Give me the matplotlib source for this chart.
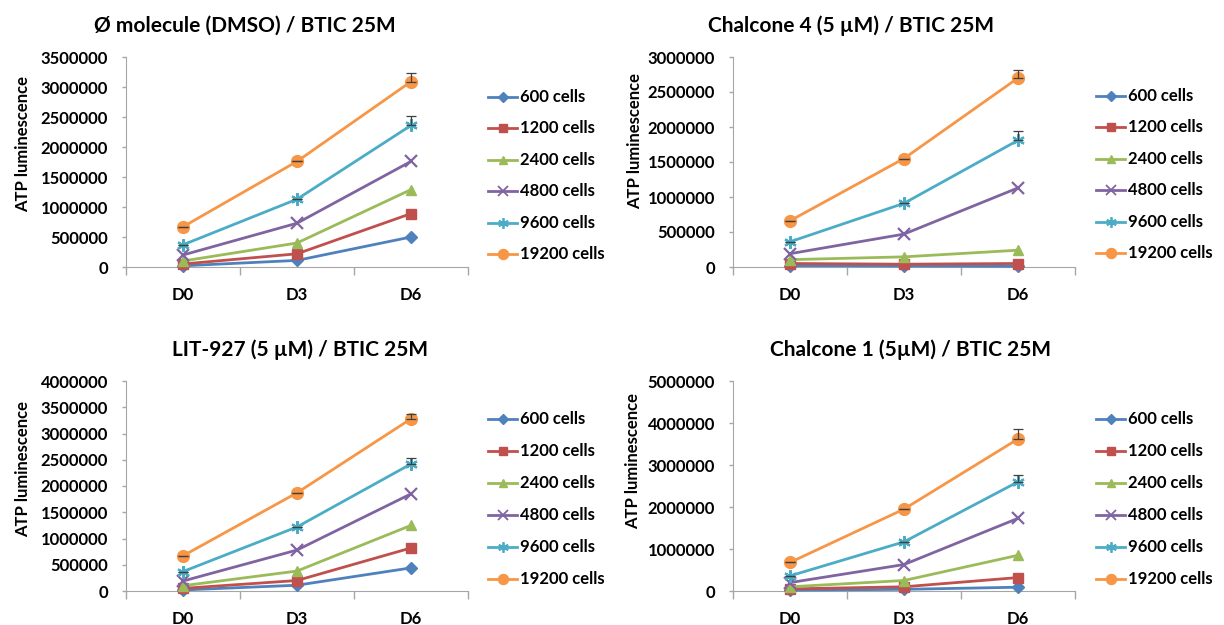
#ATP luminescence growth curves of BTIC 25M cells for four treatments
import numpy as np
import matplotlib.pyplot as plt

#font close to the Calibri used by the original spreadsheet chart
plt.rcParams['font.family'] = ['Lato', 'DejaVu Sans']
plt.rcParams['font.weight'] = 'bold'

#days and cell densities
days = ['D0', 'D3', 'D6']
cells = ['600 cells', '1200 cells', '2400 cells', '4800 cells', '9600 cells', '19200 cells']

#DMSO control
dmso_600 = [20000, 110000, 500000]
dmso_1200 = [50000, 220000, 890000]
dmso_2400 = [100000, 400000, 1290000]
dmso_4800 = [200000, 730000, 1760000]
dmso_9600 = [370000, 1130000, 2360000]
dmso_19200 = [670000, 1760000, 3090000]
dmso_err_9600 = [0, 0, 160000]
dmso_err_19200 = [0, 0, 140000]

#Chalcone 4 (5 uM)
chal4_600 = [20000, 15000, 10000]
chal4_1200 = [50000, 40000, 50000]
chal4_2400 = [105000, 145000, 240000]
chal4_4800 = [190000, 470000, 1130000]
chal4_9600 = [360000, 910000, 1810000]
chal4_19200 = [660000, 1550000, 2700000]
chal4_err_9600 = [0, 0, 130000]
chal4_err_19200 = [0, 0, 110000]

#LIT-927 (5 uM)
lit_600 = [20000, 110000, 440000]
lit_1200 = [50000, 200000, 820000]
lit_2400 = [100000, 380000, 1250000]
lit_4800 = [190000, 780000, 1850000]
lit_9600 = [370000, 1220000, 2420000]
lit_19200 = [670000, 1870000, 3280000]
lit_err_9600 = [0, 0, 120000]
lit_err_19200 = [0, 0, 100000]

#Chalcone 1 (5 uM)
chal1_600 = [20000, 40000, 90000]
chal1_1200 = [50000, 100000, 320000]
chal1_2400 = [100000, 250000, 850000]
chal1_4800 = [200000, 630000, 1730000]
chal1_9600 = [360000, 1170000, 2600000]
chal1_19200 = [680000, 1950000, 3620000]
chal1_err_9600 = [0, 0, 170000]
chal1_err_19200 = [0, 0, 230000]

#excel 2010 series colours and markers
colors = ['#4F81BD', '#C0504D', '#9BBB59', '#8064A2', '#4BACC6', '#F79646']
markers = ['D', 's', '^', 'x', (6, 2, 0), 'o']
msizes = [6, 7, 7.5, 8, 9, 8.5]

fig = plt.figure(figsize=(12.24, 6.25), dpi=100)
W, H = 1224.0, 625.0

def panel(left, top, title, title_x, series, errs, ymax, ystep, lab_x, lab_y, leg_x, leg_y, leg_dy):
    #axes placed by pixel positions of the plot area
    ax = fig.add_axes([left / W, 1 - (top + 210) / H, 342 / W, 210 / H])
    x = np.arange(len(days))
    for i in range(len(series)):
        ax.plot(x, series[i], color=colors[i], marker=markers[i], ms=msizes[i],
                mew=1.6 if i in (3, 4) else 1, lw=2, clip_on=False, zorder=3)
    #upper error bars only, as excel draws them
    for i, e in errs.items():
        ax.errorbar(x, series[i], yerr=[np.zeros(3), e], fmt='none', ecolor='#404040',
                    elinewidth=0.9, capsize=3.5, capthick=0.9, zorder=4)
    ax.set_xlim(-0.5, 2.5)
    ax.set_ylim(0, ymax)
    ax.set_yticks(np.arange(0, ymax + 1, ystep))
    ax.set_yticklabels(['%d' % v for v in np.arange(0, ymax + 1, ystep)])
    ax.set_xticks([-0.5, 0.5, 1.5, 2.5])
    ax.set_xticklabels([])
    ax.set_xticks(x, minor=True)
    ax.set_xticklabels(days, minor=True)
    ax.tick_params(axis='x', which='major', length=6, color='#A6A6A6', width=1)
    ax.tick_params(axis='x', which='minor', length=0, pad=14.5, labelsize=12)
    ax.tick_params(axis='y', length=3, color='#A6A6A6', width=1, pad=10, labelsize=12)
    for s in ['top', 'right']:
        ax.spines[s].set_visible(False)
    for s in ['left', 'bottom']:
        ax.spines[s].set_color('#A6A6A6')
    ax.set_ylabel('ATP luminescence', fontsize=12, fontweight='bold')
    ax.yaxis.set_label_coords(lab_x, lab_y)
    fig.text(title_x / W, 1 - (top - 25) / H, title, ha='center', va='baseline',
             fontsize=15, fontweight='bold')
    #legend drawn entry by entry beside the plot
    for i in range(len(series)):
        yy = 1 - (leg_y + i * leg_dy) / H
        fig.add_artist(plt.Line2D([leg_x / W, (leg_x + 29) / W], [yy, yy], color=colors[i], lw=2,
                                  transform=fig.transFigure))
        fig.add_artist(plt.Line2D([(leg_x + 14.5) / W], [yy], color=colors[i], marker=markers[i],
                                  ms=msizes[i] * 0.85, mew=1.3 if i in (3, 4) else 1,
                                  transform=fig.transFigure))
        fig.text((leg_x + 32) / W, yy, cells[i], ha='left', va='center', fontsize=12,
                 fontweight='bold')
    return ax

panel(126, 57, 'Ø molecule (DMSO) / BTIC 25M', 245,
      [dmso_600, dmso_1200, dmso_2400, dmso_4800, dmso_9600, dmso_19200],
      {4: dmso_err_9600, 5: dmso_err_19200}, 3500000, 500000, -0.278, 0.586, 488, 97, 31.4)
panel(733, 57, 'Chalcone 4 (5 µM) / BTIC 25M', 851,
      [chal4_600, chal4_1200, chal4_2400, chal4_4800, chal4_9600, chal4_19200],
      {4: chal4_err_9600, 5: chal4_err_19200}, 3000000, 500000, -0.263, 0.6, 1096, 96, 31.4)
panel(126, 381, 'LIT-927 (5 µM) / BTIC 25M', 300,
      [lit_600, lit_1200, lit_2400, lit_4800, lit_9600, lit_19200],
      {4: lit_err_9600, 5: lit_err_19200}, 4000000, 500000, -0.278, 0.58, 488, 419, 32)
panel(733, 381, 'Chalcone 1 (5µM) / BTIC 25M', 910,
      [chal1_600, chal1_1200, chal1_2400, chal1_4800, chal1_9600, chal1_19200],
      {4: chal1_err_9600, 5: chal1_err_19200}, 5000000, 1000000, -0.269, 0.617, 1096, 419, 32)

plt.savefig('out.png', dpi=100)
